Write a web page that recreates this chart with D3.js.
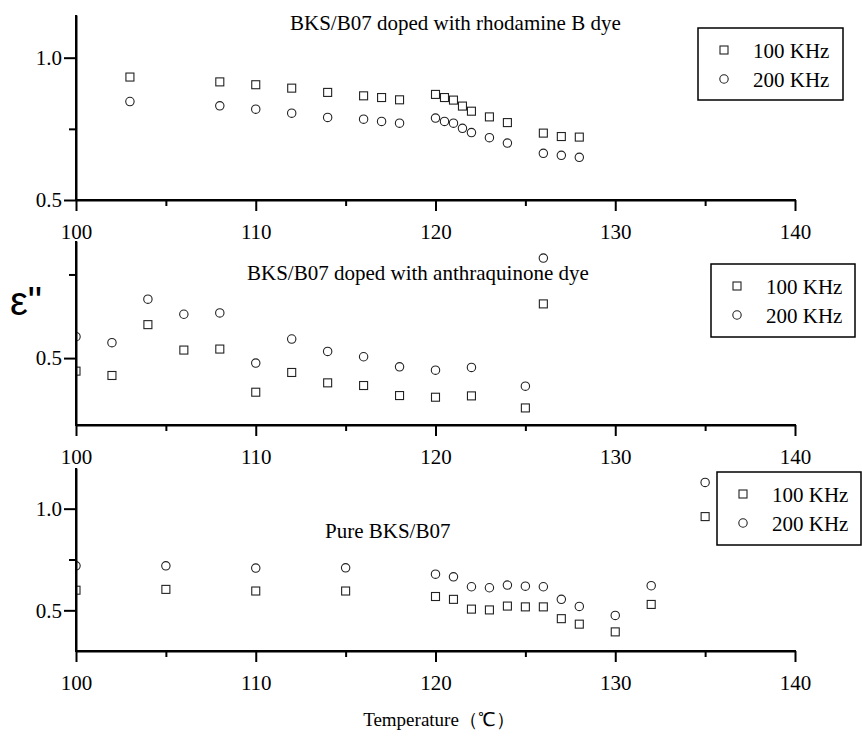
<!DOCTYPE html>
<html>
<head>
<meta charset="utf-8">
<script src="https://cdn.jsdelivr.net/npm/d3@7"></script>
<style>
  html, body { margin: 0; padding: 0; background: #fff; }
  svg { display: block; font-family: "Liberation Serif", "Times New Roman", serif; }
  .axis path, .axis line { stroke: #000; stroke-width: 2; }
  .axis text { font-size: 21px; fill: #000; font-family: "Liberation Serif", "Times New Roman", serif; }
</style>
</head>
<body>
<script>
// ---- data ------------------------------------------------------------------
const seriesNames = ['100 KHz', '200 KHz'];
const xTicks      = [100, 110, 120, 130, 140];
const xMinorTicks = [105, 115, 125, 135];

// rhodamine B doped
const rhoTemp  = [103, 108, 110, 112, 114, 116, 117, 118, 120, 120.5, 121, 121.5, 122, 123, 124, 126, 127, 128];
const rho100   = [0.932, 0.915, 0.905, 0.893, 0.878, 0.866, 0.860, 0.852, 0.871, 0.860, 0.851, 0.830, 0.812, 0.792, 0.772, 0.735, 0.723, 0.721];
const rho200   = [0.846, 0.831, 0.819, 0.805, 0.790, 0.784, 0.776, 0.770, 0.788, 0.776, 0.770, 0.752, 0.737, 0.719, 0.700, 0.664, 0.657, 0.650];

// anthraquinone doped
const anthTemp = [100, 102, 104, 106, 108, 110, 112, 114, 116, 118, 120, 122, 125, 126];
const anth100  = [0.461, 0.448, 0.600, 0.524, 0.527, 0.398, 0.457, 0.426, 0.418, 0.388, 0.383, 0.387, 0.351, 0.662];
const anth200  = [0.564, 0.546, 0.676, 0.631, 0.635, 0.485, 0.557, 0.520, 0.504, 0.474, 0.464, 0.472, 0.416, 0.799];

// pure BKS/B07
const pureTemp = [100, 105, 110, 115, 120, 121, 122, 123, 124, 125, 126, 127, 128, 130, 132, 135];
const pure100  = [0.599, 0.603, 0.595, 0.595, 0.568, 0.554, 0.506, 0.502, 0.521, 0.517, 0.517, 0.459, 0.432, 0.394, 0.529, 0.961];
const pure200  = [0.719, 0.719, 0.708, 0.709, 0.678, 0.665, 0.616, 0.611, 0.624, 0.619, 0.616, 0.554, 0.519, 0.475, 0.621, 1.129];

// ---- layout ----------------------------------------------------------------
const W = 862, H = 737;
const X0 = 76, X1 = 795;

const panels = [
  { title: 'BKS/B07 doped with rhodamine B dye', temp: rhoTemp, s100: rho100, s200: rho200,
    yDom: [0.5, 1.15], top: 15, bottom: 200, yMajor: [0.5, 1.0], yMinor: [0.75],
    titleX: 290, titleY: 30, leg: { x: 698, y: 28, w: 145, h: 72 } },
  { title: 'BKS/B07 doped with anthraquinone dye', temp: anthTemp, s100: anth100, s200: anth200,
    yDom: [0.3, 0.85], top: 241, bottom: 425, yMajor: [0.5], yMinor: [0.75],
    titleX: 247, titleY: 280, leg: { x: 711, y: 264, w: 144, h: 73 } },
  { title: 'Pure BKS/B07', temp: pureTemp, s100: pure100, s200: pure200,
    yDom: [0.3, 1.2], top: 468, bottom: 651, yMajor: [0.5, 1.0], yMinor: [0.75],
    titleX: 325, titleY: 538, leg: { x: 717, y: 472, w: 144, h: 73 } }
];

const svg = d3.select('body').append('svg').attr('width', W).attr('height', H);

const x = d3.scaleLinear().domain([100, 140]).range([X0, X1]);

function marker(g, kind, cx, cy) {
  if (kind === 0) {
    g.append('rect').attr('x', cx - 4).attr('y', cy - 4).attr('width', 8).attr('height', 8)
      .attr('fill', '#fff').attr('stroke', '#222').attr('stroke-width', 1.1);
  } else {
    g.append('circle').attr('cx', cx).attr('cy', cy).attr('r', 4.2)
      .attr('fill', '#fff').attr('stroke', '#222').attr('stroke-width', 1.1);
  }
}

panels.forEach((p, pi) => {
  const y = d3.scaleLinear().domain(p.yDom).range([p.bottom, p.top]);
  const g = svg.append('g');

  // clip so markers on the y axis are cut in half like the original
  g.append('clipPath').attr('id', 'clip' + pi)
    .append('rect').attr('x', X0).attr('y', p.top - 20).attr('width', W - X0).attr('height', p.bottom - p.top + 20);

  const pts = g.append('g').attr('clip-path', `url(#clip${pi})`);
  [p.s100, p.s200].forEach((vals, si) => {
    vals.forEach((v, i) => marker(pts, si, x(p.temp[i]), y(v)));
  });

  // x axis: minor then major
  g.append('g').attr('class', 'axis').attr('transform', `translate(0,${p.bottom})`)
    .call(d3.axisBottom(x).tickValues(xMinorTicks).tickSize(6).tickSizeOuter(0).tickFormat(''));
  g.append('g').attr('class', 'axis').attr('transform', `translate(0,${p.bottom})`)
    .call(d3.axisBottom(x).tickValues(xTicks).tickSize(11).tickSizeOuter(0).tickPadding(13).tickFormat(d3.format('d')))
    .call(a => a.select('.domain').attr('d', `M${X0 - 1},0H${X1 + 1}`));

  // y axis
  g.append('g').attr('class', 'axis').attr('transform', `translate(${X0},0)`)
    .call(d3.axisLeft(y).tickValues(p.yMinor).tickSize(7).tickSizeOuter(0).tickFormat(''));
  g.append('g').attr('class', 'axis').attr('transform', `translate(${X0},0)`)
    .call(d3.axisLeft(y).tickValues(p.yMajor).tickSize(12).tickSizeOuter(0).tickPadding(2).tickFormat(d3.format('.1f')))
    .call(a => a.select('.domain').attr('d', `M0,${p.bottom + 1}V${p.top}`));

  // title
  g.append('text').attr('x', p.titleX).attr('y', p.titleY)
    .style('font-size', '21px').text(p.title);

  // legend
  const L = p.leg;
  g.append('rect').attr('x', L.x).attr('y', L.y).attr('width', L.w).attr('height', L.h)
    .attr('fill', '#fff').attr('stroke', '#000').attr('stroke-width', 1.5);
  seriesNames.forEach((name, si) => {
    const cy = L.y + 22 + si * 29;
    marker(g, si, L.x + 26, cy);
    g.append('text').attr('x', L.x + 55).attr('y', cy + 8)
      .style('font-size', '21px').text(name);
  });
});

// shared axis labels
svg.append('text').attr('x', 10).attr('y', 315)
  .style('font-family', '"Liberation Sans", Arial, sans-serif').style('font-size', '40px')
  .text('ε"');

svg.append('text').attr('x', 439).attr('y', 726).attr('text-anchor', 'middle')
  .style('font-size', '19px')
  .text('Temperature（℃）');
</script>
</body>
</html>
